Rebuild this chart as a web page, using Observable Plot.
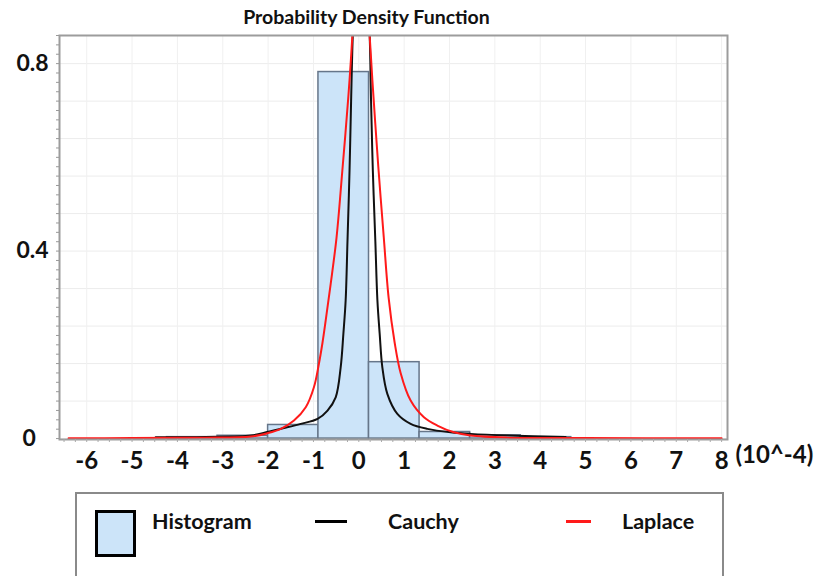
<!DOCTYPE html>
<html><head><meta charset="utf-8">
<script src="https://cdn.jsdelivr.net/npm/d3@7"></script>
<script src="https://cdn.jsdelivr.net/npm/@observablehq/plot@0.6"></script>
<style>
body{margin:0;background:#fff;}
#wrap{position:relative;width:820px;height:576px;overflow:hidden;font-family:Lato,"Open Sans",sans-serif;color:#111;}
#chart{position:absolute;left:0;top:0;}
.t{position:absolute;font-weight:bold;white-space:nowrap;line-height:1;}
#title{left:0;width:733px;top:7px;text-align:center;font-size:19.5px;}
#lbox{position:absolute;left:75px;top:492px;width:645px;height:110px;border:2px solid #8a8a8a;}
#sw{position:absolute;left:95px;top:510px;width:35px;height:41px;background:#cce4f9;border:3px solid #000;}
.ln{position:absolute;height:3px;}
.lt{font-size:21.5px;top:511px;}
</style></head><body>
<div id="wrap">
  <div id="chart"></div>
  <div id="title" class="t">Probability Density Function</div>
  <div id="lbox"></div>
  <div id="sw"></div>
  <div class="t lt" style="left:152px;">Histogram</div>
  <div class="ln" style="left:315px;top:520px;width:32px;background:#000;"></div>
  <div class="t lt" style="left:388px;">Cauchy</div>
  <div class="ln" style="left:566px;top:520px;width:25px;background:#ff1a1a;"></div>
  <div class="t lt" style="left:622px;">Laplace</div>
</div>
<script>
// Histogram bins (x in units of 10^-4)
const binStart = [-4.23, -3.115, -2.0, -0.89, 0.225, 1.34, 2.455, 3.57];
const binEnd   = [-3.115, -2.0, -0.89, 0.225, 1.34, 2.455, 3.57, 4.685];
const binDensity = [0.003, 0.006, 0.029, 0.782, 0.163, 0.014, 0.007, 0.003];

// Cauchy fitted curve
const cauchyX = [-4.48, -3.38, -2.38, -2.02, -1.65, -1.28, -0.91, -0.69, -0.51, -0.40, -0.34, -0.29, -0.25, -0.205, -0.17, -0.133, 0.055, 0.24, 0.27, 0.31, 0.365, 0.41, 0.46, 0.519, 0.629, 0.850, 1.143, 1.511, 2.025, 2.466, 3.30, 4.56];
const cauchyY = [0.0028, 0.0036, 0.0064, 0.0139, 0.0224, 0.0314, 0.042, 0.0598, 0.088, 0.152, 0.224, 0.295, 0.42, 0.57, 0.72, 0.86, 1.3, 0.86, 0.72, 0.57, 0.42, 0.295, 0.224, 0.152, 0.0954, 0.0527, 0.0314, 0.0207, 0.0134, 0.010, 0.0064, 0.0032];

// Laplace fitted curve
const laplaceX = [-6.4, -5.0, -4.0, -3.38, -2.38, -2.02, -1.72, -1.43, -1.17, -0.99, -0.88, -0.80, -0.73, -0.62, -0.49, -0.363, -0.231, -0.142, 0.04, 0.239, 0.33, 0.43, 0.55, 0.658, 0.790, 0.922, 1.143, 1.436, 1.731, 2.098, 2.466, 3.27, 5.0, 8.0];
const laplaceY = [0.0006, 0.001, 0.0015, 0.002, 0.0043, 0.0113, 0.0207, 0.0384, 0.0668, 0.1095, 0.1595, 0.205, 0.252, 0.33, 0.43, 0.572, 0.729, 0.86, 1.25, 0.86, 0.72, 0.58, 0.43, 0.30, 0.205, 0.14, 0.081, 0.0455, 0.0278, 0.0134, 0.0064, 0.002, 0.001, 0.0006];

const xTickValues = [-6, -5, -4, -3, -2, -1, 0, 1, 2, 3, 4, 5, 6, 7, 8];
const yTickValues = [0.4, 0.8];
const yZeroTick = [0];
const xUnitLabel = "(10^-4)";

const bins = binStart.map((s, i) => ({x1: s, x2: binEnd[i], density: binDensity[i]}));
const cauchy = cauchyX.map((x, i) => ({x, y: cauchyY[i]}));
const laplace = laplaceX.map((x, i) => ({x, y: laplaceY[i]}));

const minorY = d3.range(0, 0.861, 0.02);
const gridY = d3.range(0, 0.81, 0.08);
const minorX = d3.range(-6.5, 8.13, 0.25);

const chart = Plot.plot({
  width: 820, height: 490,
  marginTop: 35, marginBottom: 51, marginLeft: 59, marginRight: 93,
  x: {domain: [-6.6, 8.13]},
  y: {domain: [-0.002, 0.86]},
  style: {fontFamily: "Lato, 'Open Sans', sans-serif", background: "transparent", color: "#111"},
  marks: [
    Plot.gridY(gridY, {stroke: "#ececec", strokeOpacity: 1}),
    Plot.gridX(xTickValues, {stroke: "#f0f0f0", strokeOpacity: 1}),
    Plot.rect(bins, {x1: "x1", x2: "x2", y1: 0, y2: "density", fill: "#cce4f9", stroke: "#66768a", strokeWidth: 1.5}),
    Plot.line(cauchy, {x: "x", y: "y", stroke: "#111", strokeWidth: 2, curve: "catmull-rom", clip: true}),
    Plot.line(laplace, {x: "x", y: "y", stroke: "#ff1a1a", strokeWidth: 2, curve: "catmull-rom", clip: true}),
    Plot.frame({stroke: "#9c9c9c", strokeWidth: 2}),
    Plot.axisY(minorY, {tickSize: 3, tickFormat: () => "", label: null, stroke: "#999"}),
    Plot.axisX(minorX, {tickSize: 3, tickFormat: () => "", label: null, stroke: "#aaa"}),
    Plot.axisY(yTickValues, {tickSize: 0, tickPadding: 0, textAnchor: "start", dx: -43, fontSize: 23, fontWeight: "bold", label: null, fill: "#111", tickFormat: d => String(d)}),
    Plot.axisY(yZeroTick, {tickSize: 0, tickPadding: 0, textAnchor: "start", dx: -37, fontSize: 23, fontWeight: "bold", label: null, fill: "#111", tickFormat: d => String(d)}),
    Plot.axisX(xTickValues, {tickSize: 0, tickPadding: 12, fontSize: 24, fontWeight: "bold", label: null, fill: "#111", tickFormat: d => String(d)}),
    Plot.text([xUnitLabel], {x: 8.13, frameAnchor: "bottom", dy: 23, dx: 8, textAnchor: "start", fontSize: 24, fontWeight: "bold", fill: "#111"})
  ]
});
document.getElementById("chart").appendChild(chart);
</script>
</body></html>
